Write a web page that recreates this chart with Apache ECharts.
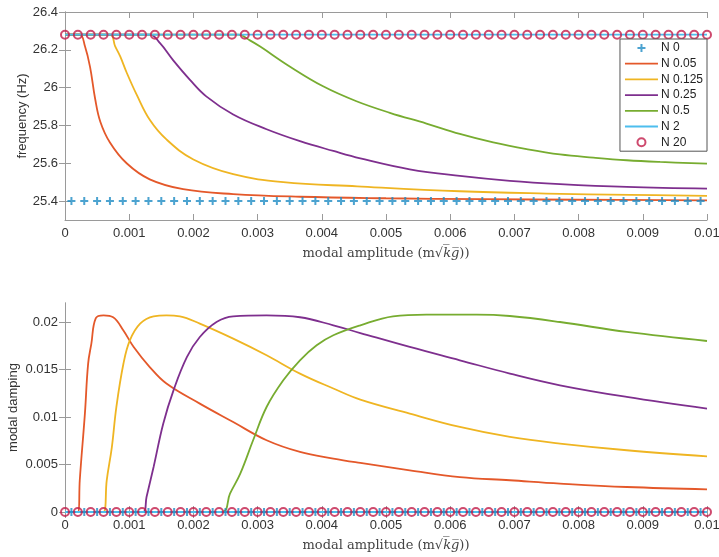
<!DOCTYPE html>
<html>
<head>
<meta charset="utf-8">
<script src="https://cdn.jsdelivr.net/npm/echarts@6/dist/echarts.min.js"></script>
<style>
html,body{margin:0;padding:0;background:#fff;}
#main{width:719px;height:557px;}
</style>
</head>
<body>
<div id="main"></div>
<script>
// ---------- data ----------
var legendNames = ['N 0', 'N 0.05', 'N 0.125', 'N 0.25', 'N 0.5', 'N 2', 'N 20'];
var xTicks = [0, 0.001, 0.002, 0.003, 0.004, 0.005, 0.006, 0.007, 0.008, 0.009, 0.01];
var freqTicks = [25.4, 25.6, 25.8, 26, 26.2, 26.4];
var dampTicks = [0, 0.005, 0.01, 0.015, 0.02];

// N 0 markers (plus) and N 20 markers (circle)
var n0Amp = [0.0001,0.0003,0.0005,0.0007,0.0009,0.0011,0.0013,0.0015,0.0017,0.0019,0.0021,0.0023,0.0025,0.0027,0.0029,0.0031,0.0033,0.0035,0.0037,0.0039,0.0041,0.0043,0.0045,0.0047,0.0049,0.0051,0.0053,0.0055,0.0057,0.0059,0.0061,0.0063,0.0065,0.0067,0.0069,0.0071,0.0073,0.0075,0.0077,0.0079,0.0081,0.0083,0.0085,0.0087,0.0089,0.0091,0.0093,0.0095,0.0097,0.0099];
var n20Amp = [0,0.0002,0.0004,0.0006,0.0008,0.001,0.0012,0.0014,0.0016,0.0018,0.002,0.0022,0.0024,0.0026,0.0028,0.003,0.0032,0.0034,0.0036,0.0038,0.004,0.0042,0.0044,0.0046,0.0048,0.005,0.0052,0.0054,0.0056,0.0058,0.006,0.0062,0.0064,0.0066,0.0068,0.007,0.0072,0.0074,0.0076,0.0078,0.008,0.0082,0.0084,0.0086,0.0088,0.009,0.0092,0.0094,0.0096,0.0098,0.01];
var n0Freq = 25.4, n20Freq = 26.28, n0Damp = 0, n20Damp = 0;
var n2Amp = [0, 0.01];
var n2Freq = [26.28, 26.28];
var n2Damp = [0, 0];

// frequency curves
var f005Amp = [0, 0.00023, 0.00031, 0.00039, 0.00047, 0.00055, 0.0007, 0.00096, 0.00132, 0.00184, 0.00262, 0.00366, 0.005, 0.0065, 0.008, 0.01];
var f005Val = [26.28, 26.28, 26.22, 26.11, 25.94, 25.82, 25.71, 25.60, 25.515, 25.463, 25.437, 25.423, 25.415, 25.41, 25.407, 25.404];
var f0125Amp = [0, 0.0007, 0.00078, 0.00086, 0.00096, 0.00112, 0.00132, 0.00158, 0.002, 0.00262, 0.0034, 0.00455, 0.00615, 0.0075, 0.0088, 0.01];
var f0125Val = [26.28, 26.28, 26.22, 26.165, 26.08, 25.96, 25.83, 25.726, 25.62, 25.542, 25.50, 25.478, 25.452, 25.44, 25.433, 25.428];
var f025Amp = [0, 0.00132, 0.00148, 0.00168, 0.00195, 0.0022, 0.00262, 0.00314, 0.00366, 0.00418, 0.0046, 0.00537, 0.00615, 0.00693, 0.00771, 0.00875, 0.01];
var f025Val = [26.28, 26.28, 26.235, 26.147, 26.04, 25.954, 25.858, 25.78, 25.717, 25.665, 25.626, 25.568, 25.533, 25.507, 25.49, 25.475, 25.466];
var f05Amp = [0, 0.0027, 0.00288, 0.00304, 0.0035, 0.00402, 0.00454, 0.00506, 0.00563, 0.00615, 0.00667, 0.00719, 0.00771, 0.00823, 0.00875, 0.00927, 0.01];
var f05Val = [26.28, 26.28, 26.25, 26.217, 26.112, 26.007, 25.928, 25.867, 25.81, 25.755, 25.71, 25.675, 25.647, 25.63, 25.616, 25.607, 25.598];

// damping curves
var d005Amp = [0, 0.000207, 0.00023, 0.00031, 0.00036, 0.00041, 0.00048, 0.0006, 0.00075, 0.00091, 0.00107, 0.00132, 0.00158, 0.0021, 0.00262, 0.00314, 0.00366, 0.00418, 0.0046, 0.00537, 0.00615, 0.00693, 0.00771, 0.00875, 0.01];
var d005Val = [0, 0, 0.00334, 0.01036, 0.0156, 0.0177, 0.0204, 0.0207, 0.0205, 0.0191, 0.01737, 0.01526, 0.01352, 0.01141, 0.00947, 0.00755, 0.00632, 0.00562, 0.00516, 0.00439, 0.00368, 0.00334, 0.00299, 0.00263, 0.00239];
var d0125Amp = [0, 0.0006, 0.00065, 0.00073, 0.0008, 0.00091, 0.00101, 0.00117, 0.00138, 0.00158, 0.00179, 0.0021, 0.00262, 0.00314, 0.00366, 0.00418, 0.0046, 0.00537, 0.00615, 0.00693, 0.00771, 0.00875, 0.01];
var d0125Val = [0, 0, 0.00334, 0.00684, 0.01105, 0.0156, 0.01807, 0.01983, 0.0206, 0.0207, 0.0206, 0.01983, 0.01825, 0.0165, 0.01457, 0.013, 0.01183, 0.01036, 0.00895, 0.0079, 0.0072, 0.0065, 0.00586];
var d025Amp = [0, 0.00122, 0.00127, 0.00138, 0.00153, 0.00169, 0.0019, 0.0021, 0.00236, 0.00262, 0.00314, 0.00366, 0.00418, 0.0046, 0.00537, 0.00615, 0.00693, 0.00771, 0.00875, 0.01];
var d025Val = [0, 0, 0.00158, 0.00474, 0.0093, 0.0128, 0.01632, 0.01842, 0.02, 0.0206, 0.0207, 0.0205, 0.01965, 0.01884, 0.01737, 0.01597, 0.01457, 0.01334, 0.01211, 0.01088];
var d05Amp = [0, 0.00244, 0.00257, 0.00273, 0.00293, 0.00314, 0.0034, 0.00366, 0.00392, 0.00418, 0.0046, 0.00511, 0.00563, 0.00641, 0.00693, 0.00771, 0.00875, 0.01];
var d05Val = [0, 0, 0.00194, 0.00404, 0.00755, 0.01105, 0.01386, 0.01597, 0.01755, 0.0186, 0.01965, 0.0206, 0.02078, 0.02078, 0.02063, 0.02, 0.01895, 0.018];

// ---------- styling ----------
var C = {
  n0: '#1f8cc4', n005: '#e4582a', n0125: '#efb522', n025: '#7e2f8e',
  n05: '#77ac30', n2: '#4dbeee', n20: '#c21d4a'
};
var axisGrey = '#9a9a9a';
var labelColor = '#333';
var sans = '"Liberation Sans", Arial, sans-serif';
var serif = '"DejaVu Serif", "Liberation Serif", serif';
var plusPath = 'path://M3,0H5V3H8V5H5V8H3V5H0V3H3Z';
var lineIcon = 'path://M0,0H33V1.8H0Z';

function zip(xs, ys) {
  return xs.map(function (x, i) { return [x, Array.isArray(ys) ? ys[i] : ys]; });
}
function fmt(v, d) { return String(parseFloat(Number(v).toFixed(d))); }

function xAxesFor(gi) {
  return [{
    type: 'value', gridIndex: gi, min: 0, max: 0.01, interval: 0.001,
    position: 'bottom',
    name: '{t|modal amplitude (m√}{i|k̅g̅}{t|))}',
    nameLocation: 'middle', nameGap: 27,
    nameTextStyle: { rich: {
      t: { fontFamily: serif, fontSize: 13, color: '#444' },
      i: { fontFamily: serif, fontStyle: 'italic', fontSize: 13, color: '#444' }
    } },
    axisLine: { show: true, lineStyle: { color: axisGrey, width: 1 } },
    axisTick: { show: true, inside: true, length: 6, lineStyle: { color: axisGrey } },
    axisLabel: { color: labelColor, fontFamily: sans, fontSize: 13, margin: 7,
      formatter: function (v) { return fmt(v, 4); } },
    splitLine: { show: false }
  }, {
    type: 'value', gridIndex: gi, min: 0, max: 0.01, interval: 0.001,
    position: 'top',
    axisLine: { show: true, lineStyle: { color: axisGrey, width: 1 } },
    axisTick: { show: true, inside: true, length: 6, lineStyle: { color: axisGrey } },
    axisLabel: { show: false }, splitLine: { show: false }
  }];
}

function yAxesFor(gi, min, max, ticks, name, gap, dec) {
  return [{
    type: 'value', gridIndex: gi, min: min, max: max, position: 'left',
    name: name, nameLocation: 'middle', nameGap: gap, nameMoveOverlap: false,
    nameTextStyle: { fontFamily: sans, fontSize: 13, color: '#333' },
    axisLine: { show: true, lineStyle: { color: axisGrey, width: 1 } },
    axisTick: { show: true, inside: true, length: 6, lineStyle: { color: axisGrey }, customValues: ticks },
    axisLabel: { color: labelColor, fontFamily: sans, fontSize: 13, margin: 7, customValues: ticks,
      formatter: function (v) { return fmt(v, dec); } },
    splitLine: { show: false }
  }, {
    type: 'value', gridIndex: gi, min: min, max: max, position: 'right',
    axisLine: { show: true, lineStyle: { color: axisGrey, width: 1 } },
    axisTick: { show: true, inside: true, length: 6, lineStyle: { color: axisGrey }, customValues: ticks },
    axisLabel: { show: false }, splitLine: { show: false }
  }];
}

function lineSeries(name, color, data, xi, yi, z) {
  return {
    type: 'line', name: name, xAxisIndex: xi, yAxisIndex: yi, data: data,
    symbol: 'none', smooth: 0.4, z: z || 3,
    lineStyle: { color: color, width: 1.8 }, itemStyle: { color: color },
    emphasis: { disabled: true }, animation: false
  };
}
function plusSeries(name, data, xi, yi) {
  return {
    type: 'scatter', name: name, xAxisIndex: xi, yAxisIndex: yi, data: data,
    symbol: plusPath, symbolSize: 8, clip: false, z: 5,
    itemStyle: { color: C.n0 }, emphasis: { disabled: true }, animation: false
  };
}
function circleSeries(name, data, xi, yi) {
  return {
    type: 'scatter', name: name, xAxisIndex: xi, yAxisIndex: yi, data: data,
    symbol: 'circle', symbolSize: 8, clip: false, z: 6,
    itemStyle: { color: 'rgba(255,255,255,0)', borderColor: C.n20, borderWidth: 2 },
    emphasis: { disabled: true }, animation: false
  };
}

var series = [
  // top (frequency): xAxis 0, yAxis 0
  plusSeries('N 0', zip(n0Amp, n0Freq), 0, 0),
  lineSeries('N 0.05', C.n005, zip(f005Amp, f005Val), 0, 0),
  lineSeries('N 0.125', C.n0125, zip(f0125Amp, f0125Val), 0, 0),
  lineSeries('N 0.25', C.n025, zip(f025Amp, f025Val), 0, 0),
  lineSeries('N 0.5', C.n05, zip(f05Amp, f05Val), 0, 0),
  lineSeries('N 2', C.n2, zip(n2Amp, n2Freq), 0, 0, 4),
  circleSeries('N 20', zip(n20Amp, n20Freq), 0, 0),
  // bottom (damping): xAxis 2, yAxis 2
  lineSeries('N 0.05', C.n005, zip(d005Amp, d005Val), 2, 2),
  lineSeries('N 0.125', C.n0125, zip(d0125Amp, d0125Val), 2, 2),
  lineSeries('N 0.25', C.n025, zip(d025Amp, d025Val), 2, 2),
  lineSeries('N 0.5', C.n05, zip(d05Amp, d05Val), 2, 2),
  lineSeries('N 2', C.n2, zip(n2Amp, n2Damp), 2, 2, 4),
  plusSeries('N 0', zip(n0Amp, n0Damp), 2, 2),
  circleSeries('N 20', zip(n20Amp, n20Damp), 2, 2)
];

var legendData = legendNames.map(function (n) {
  if (n === 'N 0' || n === 'N 20') return { name: n };
  return { name: n, icon: lineIcon };
});

var chart = echarts.init(document.getElementById('main'), null, { renderer: 'canvas' });
chart.setOption({
  backgroundColor: '#fff',
  animation: false,
  grid: [
    { left: 65, top: 12, width: 642, height: 208, show: false, outerBoundsMode: 'none', containLabel: false },
    { left: 65, top: 303, width: 642, height: 209, show: false, outerBoundsMode: 'none', containLabel: false }
  ],
  xAxis: xAxesFor(0).concat(xAxesFor(1)),
  yAxis: yAxesFor(0, 25.3, 26.4, freqTicks, 'frequency (Hz)', 36, 1)
    .concat(yAxesFor(1, 0, 0.022, dampTicks, 'modal damping', 45, 3)),
  legend: {
    data: legendData, orient: 'vertical', right: 12, top: 39,
    itemWidth: 33, itemHeight: 8, itemGap: 3.7,
    padding: [3, 4, 3, 5],
    backgroundColor: '#fff', borderColor: '#555', borderWidth: 1, borderRadius: 0,
    textStyle: { fontFamily: sans, fontSize: 12, lineHeight: 12, color: '#222', padding: [0, 0, 0, -2] },
    selectedMode: false, z: 10
  },
  series: series
});
</script>
</body>
</html>
